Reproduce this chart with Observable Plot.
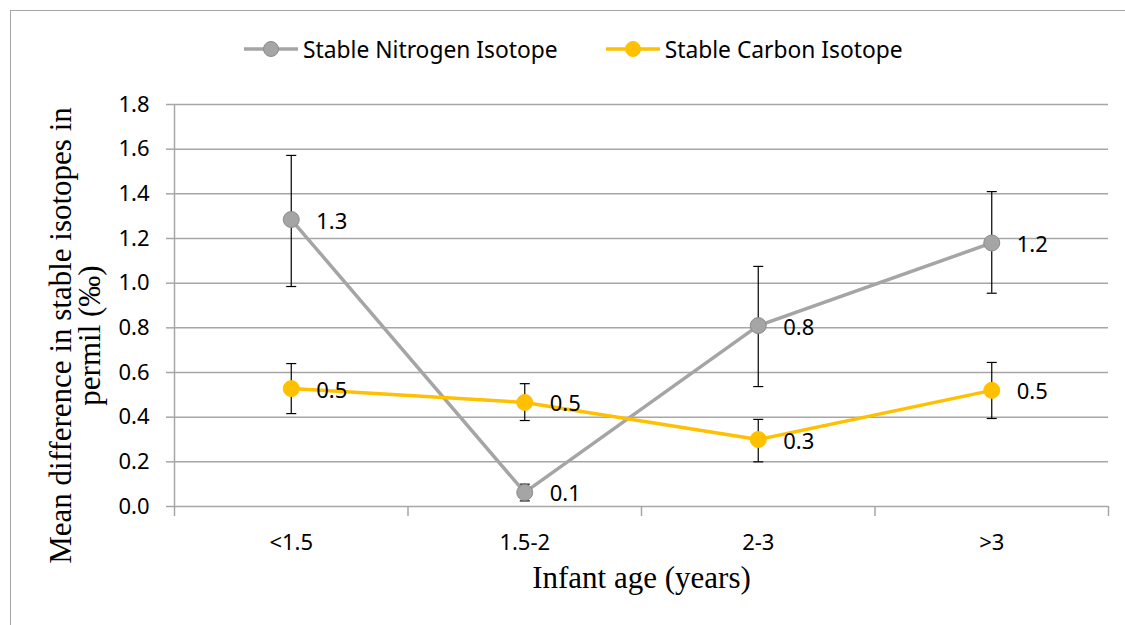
<!DOCTYPE html>
<html>
<head>
<meta charset="utf-8">
<script src="https://cdn.jsdelivr.net/npm/d3@7"></script>
<script src="https://cdn.jsdelivr.net/npm/@observablehq/plot@0.6"></script>
<style>
  html, body { margin: 0; padding: 0; background: #fff; }
  #wrap { position: relative; width: 1125px; height: 625px; overflow: hidden; background: #fff; font-family: "Noto Sans", sans-serif; }
  #border { position: absolute; left: 10px; top: 10px; width: 1200px; height: 700px; border-top: 1.5px solid #a6a6a6; border-left: 1.5px solid #a6a6a6; }
  #legend { position: absolute; left: 244px; top: 35px; height: 28px; display: flex; align-items: center; font-size: 22.8px; color: #000; }
  .item { display: flex; align-items: center; margin-right: 48px; }
  .item span { margin-left: 5px; white-space: nowrap; }
  #chart { position: absolute; left: 0; top: 80px; }
</style>
</head>
<body>
<div id="wrap">
  <div id="border"></div>
  <div id="legend"></div>
  <div id="chart"></div>
</div>
<script>
const categories = ["<1.5", "1.5-2", "2-3", ">3"];
const seriesNames = ["Stable Nitrogen Isotope", "Stable Carbon Isotope"];
const seriesColors = ["#a5a5a5", "#ffc000"];
const seriesStrokes = ["#8c8c8c", "#ffc000"];

const nitrogenMean = [1.285, 0.063, 0.81, 1.18];
const nitrogenLow  = [0.985, 0.025, 0.537, 0.955];
const nitrogenHigh = [1.572, 0.100, 1.075, 1.41];
const nitrogenLabels = ["1.3", "0.1", "0.8", "1.2"];

const carbonMean = [0.528, 0.466, 0.30, 0.52];
const carbonLow  = [0.416, 0.385, 0.20, 0.394];
const carbonHigh = [0.64, 0.55, 0.39, 0.645];
const carbonLabels = ["0.5", "0.5", "0.3", "0.5"];

const yTicks = [0, 0.2, 0.4, 0.6, 0.8, 1.0, 1.2, 1.4, 1.6, 1.8];
const xTitle = "Infant age (years)";
const yTitle = "Mean difference in stable isotopes in\npermil (‰)";

function build(mean, low, high, labels) {
  return categories.map((c, i) => ({ cat: c, pos: i + 0.5, mean: mean[i], low: low[i], high: high[i], label: labels[i] }));
}
const nData = build(nitrogenMean, nitrogenLow, nitrogenHigh, nitrogenLabels);
const cData = build(carbonMean, carbonLow, carbonHigh, carbonLabels);
const catData = categories.map((c, i) => ({ cat: c, pos: i + 0.5 }));
const boundaries = d3.range(categories.length + 1);

const capSymbol = {
  draw(context, size) {
    const w = Math.sqrt(size / Math.PI);
    context.moveTo(-w, 0);
    context.lineTo(w, 0);
  }
};

const grid = "#a6a6a6";
const serif = "'Liberation Serif', 'Times New Roman', serif";

function errorMarks(data) {
  return [
    Plot.ruleX(data, { x: "pos", y1: "low", y2: "high", stroke: "#000", strokeWidth: 1.2 }),
    Plot.dot(data, { x: "pos", y: "high", symbol: capSymbol, r: 5, stroke: "#000", fill: "none", strokeWidth: 1.2 }),
    Plot.dot(data, { x: "pos", y: "low", symbol: capSymbol, r: 5, stroke: "#000", fill: "none", strokeWidth: 1.2 })
  ];
}
function seriesMarks(data, k) {
  return [
    Plot.line(data, { x: "pos", y: "mean", stroke: seriesColors[k], strokeWidth: 3.5 }),
    Plot.dot(data, { x: "pos", y: "mean", r: 8, fill: seriesColors[k], stroke: seriesStrokes[k], strokeWidth: 1 })
  ];
}

const chart = Plot.plot({
  width: 1125,
  height: 545,
  marginTop: 24,
  marginBottom: 119,
  marginLeft: 174,
  marginRight: 17,
  x: { domain: [0, categories.length], axis: null, label: null },
  y: { domain: [0, 1.8], axis: null, label: null },
  style: { fontFamily: "'Noto Sans', sans-serif", fontSize: "22px", color: "#000", background: "transparent", overflow: "visible" },
  marks: [
    Plot.ruleY(yTicks, { stroke: grid, strokeWidth: 1.5 }),
    Plot.ruleX([0], { stroke: grid, strokeWidth: 1.5 }),
    Plot.axisY({ ticks: yTicks, tickSize: 8, tickPadding: 17, tickFormat: d3.format(".1f"), stroke: grid, strokeWidth: 1.5, fill: "#000", fontSize: 22, label: null }),
    Plot.axisX({ ticks: boundaries, tickSize: 10, tickFormat: () => "", stroke: grid, strokeWidth: 1.5, label: null }),
    Plot.text(catData, { x: "pos", text: "cat", frameAnchor: "bottom", dy: 36, lineAnchor: "middle", fill: "#000", fontSize: 22 }),
    Plot.text([xTitle], { frameAnchor: "bottom", dy: 72, lineAnchor: "middle", fontFamily: serif, fontSize: 31, fill: "#000" }),
    Plot.text([yTitle], { frameAnchor: "left", rotate: -90, dx: -98, dy: 30, textAnchor: "middle", lineAnchor: "middle", lineHeight: 0.92, fontFamily: serif, fontSize: 31, fill: "#000" }),
    ...errorMarks(nData),
    ...errorMarks(cData),
    ...seriesMarks(nData, 0),
    ...seriesMarks(cData, 1),
    Plot.text(nData, { x: "pos", y: "mean", text: "label", textAnchor: "start", dx: 25, dy: 2, fill: "#000", fontSize: 22 }),
    Plot.text(cData, { x: "pos", y: "mean", text: "label", textAnchor: "start", dx: 25, dy: 2, fill: "#000", fontSize: 22 })
  ]
});
document.getElementById("chart").appendChild(chart);

const legend = d3.select("#legend");
seriesNames.forEach((name, k) => {
  const item = legend.append("div").attr("class", "item");
  const svg = item.append("svg").attr("width", 54).attr("height", 20);
  svg.append("line").attr("x1", 0).attr("x2", 54).attr("y1", 10).attr("y2", 10).attr("stroke", seriesColors[k]).attr("stroke-width", 3.5);
  svg.append("circle").attr("cx", 27).attr("cy", 10).attr("r", 7.5).attr("fill", seriesColors[k]).attr("stroke", seriesStrokes[k]).attr("stroke-width", 1);
  item.append("span").text(name);
});
</script>
</body>
</html>
